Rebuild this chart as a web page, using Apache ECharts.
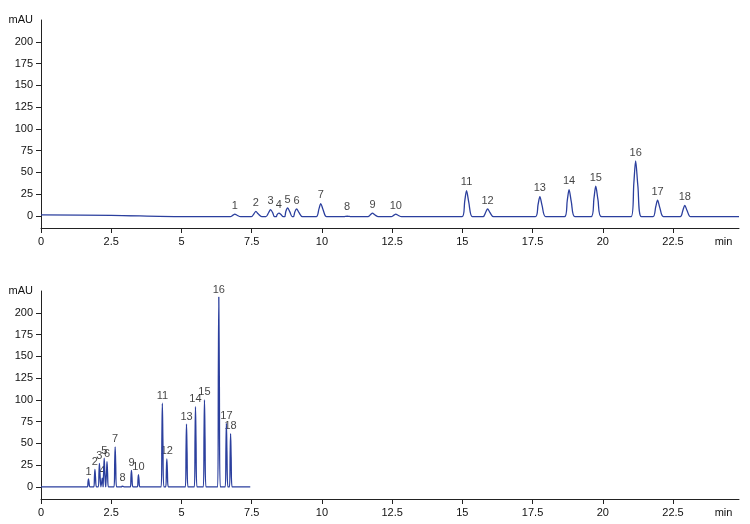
<!DOCTYPE html>
<html><head><meta charset="utf-8">
<script src="https://cdn.jsdelivr.net/npm/echarts@6/dist/echarts.min.js"></script>
<style>body{margin:0;background:#fff}#c{width:750px;height:524px}</style>
</head><body><div id="c"></div>
<script>
// peak numbers, retention times (min), heights (mAU), half widths
const peakIds = ['1','2','3','4','5','6','7','8','9','10','11','12','13','14','15','16','17','18'];
const topTimes = [6.9, 7.65, 8.17, 8.47, 8.78, 9.1, 9.96, 10.9, 11.8, 12.63, 15.15, 15.9, 17.76, 18.8, 19.75, 21.17, 21.95, 22.92];
const topHeights = [3, 6, 8, 4, 10, 9, 15, 0.5, 4, 3, 30, 9, 23, 31, 35, 64, 19, 13];
const topWidth = 0.16;
const botTimes = [1.69, 1.92, 2.08, 2.18, 2.25, 2.35, 2.64, 2.9, 3.22, 3.47, 4.32, 4.48, 5.18, 5.5, 5.82, 6.33, 6.6, 6.75];
const botHeights = [9, 20, 27, 10, 33, 29, 46, 1, 19, 14, 96, 32, 72, 92, 100, 218, 73, 61];
const botWidth = 0.04;
// baseline drift points [time, mAU]
const topBase = [[0, 1], [2.5, 0.5], [5, -1], [6.5, -1], [24.85, -1]];
const botBase = [[0, 0], [7.45, 0]];
const yTicks = [0, 25, 50, 75, 100, 125, 150, 175, 200, 225];
const xTicks = [0, 2.5, 5, 7.5, 10, 12.5, 15, 17.5, 20, 22.5];

function trace(base, times, heights, w) {
  const pts = base.map(p => [p[0], p[1]]);
  const baseAt = t => {
    for (let i = 1; i < base.length; i++) {
      if (t <= base[i][0]) {
        const a = base[i - 1], b = base[i];
        return a[1] + (b[1] - a[1]) * (t - a[0]) / (b[0] - a[0]);
      }
    }
    return base[base.length - 1][1];
  };
  times.forEach((t, i) => {
    const b = baseAt(t);
    pts.push([t - w, b], [t - w * 0.4, b + heights[i] * 0.6], [t, b + heights[i]], [t + w * 0.5, b + heights[i] * 0.55], [t + w * 1.3, b]);
  });
  return pts.sort((a, b) => a[0] - b[0]);
}
function labels(times, heights) {
  return times.map((t, i) => ({ value: [t, Math.max(heights[i], 1)], name: peakIds[i] }));
}

const font = 'Liberation Sans';
function xAx(idx) {
  return {
    type: 'value', gridIndex: idx, min: 0, max: 24.85,
    axisLine: { onZero: false, lineStyle: { color: '#222' } },
    axisTick: { customValues: xTicks, lineStyle: { color: '#222' } },
    axisLabel: { customValues: xTicks.concat([24.3]), formatter: v => v > 23 ? 'min' : String(v), color: '#111', fontFamily: font, fontSize: 11 },
    splitLine: { show: false }
  };
}
function yAx(idx) {
  return {
    type: 'value', gridIndex: idx, min: -14, max: 225,
    axisLine: { show: true, lineStyle: { color: '#222' } },
    axisTick: { show: true, customValues: yTicks.slice(0, 9), lineStyle: { color: '#222' } },
    axisLabel: { customValues: yTicks, formatter: v => v === 225 ? 'mAU' : String(v), color: '#111', fontFamily: font, fontSize: 11 },
    splitLine: { show: false }
  };
}
function lineS(idx, data) {
  return { type: 'line', xAxisIndex: idx, yAxisIndex: idx, data: data, showSymbol: false, smooth: 0.3, lineStyle: { color: '#2b3f9e', width: 1.3 }, animation: false };
}
function labS(idx, data) {
  return { type: 'scatter', xAxisIndex: idx, yAxisIndex: idx, data: data, symbolSize: 0, animation: false,
    label: { show: true, position: 'top', distance: 2, formatter: p => p.name, color: '#111', fontFamily: font, fontSize: 11 } };
}

const chart = echarts.init(document.getElementById('c'));
chart.setOption({
  backgroundColor: '#fff',
  grid: [
    { left: 41, right: 11, top: 20, height: 208 },
    { left: 41, right: 11, top: 291, height: 208 }
  ],
  xAxis: [xAx(0), xAx(1)],
  yAxis: [yAx(0), yAx(1)],
  series: [
    lineS(0, trace(topBase, topTimes, topHeights, topWidth)),
    labS(0, labels(topTimes, topHeights)),
    lineS(1, trace(botBase, botTimes, botHeights, botWidth)),
    labS(1, labels(botTimes, botHeights))
  ]
});
</script></body></html>
